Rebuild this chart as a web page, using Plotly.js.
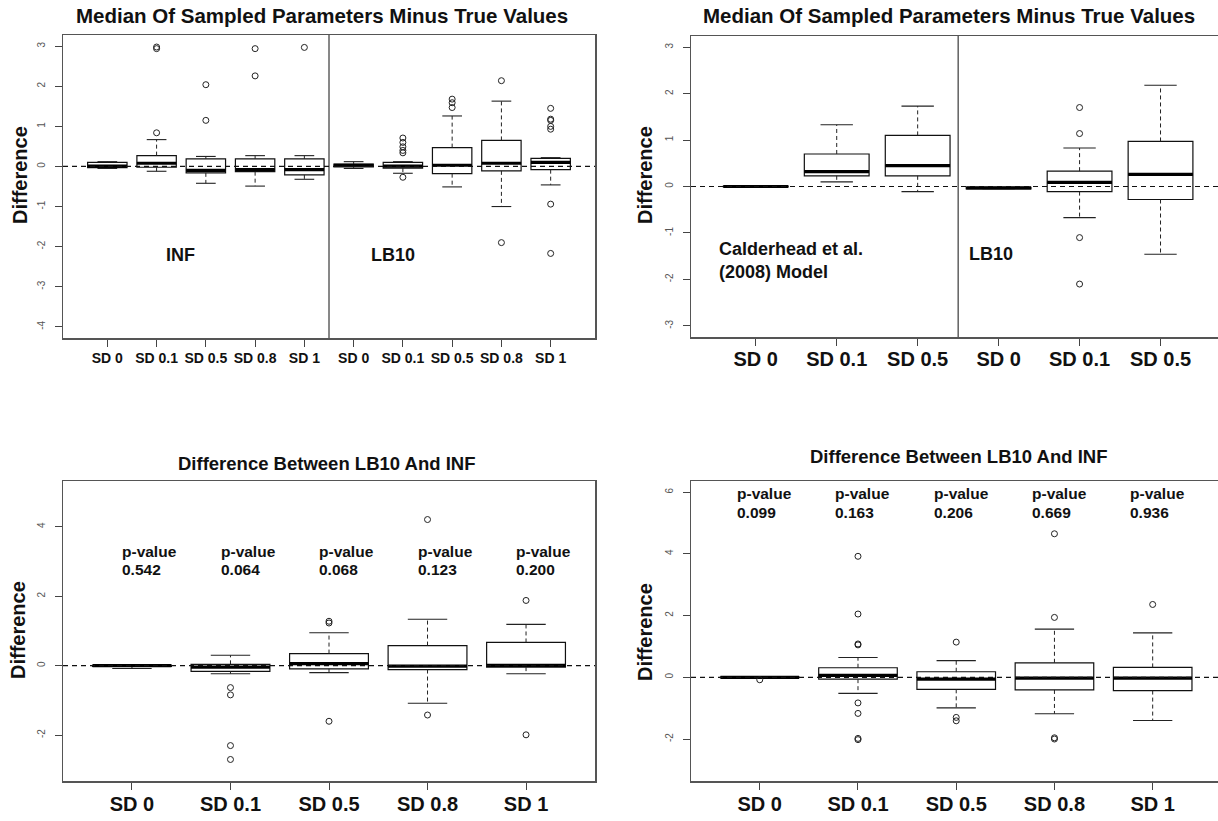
<!DOCTYPE html>
<html>
<head>
<meta charset="utf-8">
<script src="https://cdn.plot.ly/plotly-3.0.1.min.js"></script>
<style>html,body{margin:0;padding:0;background:#fff;}#chart{width:1218px;height:821px;}</style>
</head>
<body>
<div id="chart"></div>
<script>
// ---------------- DATA ----------------
// Top-left: Median of sampled parameters minus true values (INF | LB10)
const tlCategories = ['SD 0','SD 0.1','SD 0.5','SD 0.8','SD 1','SD 0','SD 0.1','SD 0.5','SD 0.8','SD 1'];
const tlQ1     = [-0.03, -0.02, -0.16, -0.13, -0.21, -0.01, -0.04, -0.18, -0.11, -0.08];
const tlMedian = [ 0.01,  0.08, -0.10, -0.08, -0.08,  0.03,  0.01,  0.03,  0.08,  0.10];
const tlQ3     = [ 0.10,  0.27,  0.19,  0.19,  0.19,  0.06,  0.10,  0.47,  0.65,  0.20];
const tlLower  = [-0.05, -0.12, -0.42, -0.49, -0.32, -0.05, -0.17, -0.51, -1.00, -0.46];
const tlUpper  = [ 0.12,  0.67,  0.25,  0.27,  0.27,  0.12,  0.12,  1.26,  1.63,  0.22];
const tlOutliers = [[], [0.84, 2.94, 2.98], [1.15, 2.04], [2.26, 2.94], [2.97],
                    [], [0.71, 0.60, 0.49, 0.40, 0.34, -0.27], [1.47, 1.59, 1.68], [2.14, -1.90],
                    [1.45, 1.18, 1.15, 1.00, 0.93, -0.94, -2.17]];
const tlYTicks = [-4, -3, -2, -1, 0, 1, 2, 3];

// Top-right: Calderhead et al. (2008) Model | LB10
const trCategories = ['SD 0','SD 0.1','SD 0.5','SD 0','SD 0.1','SD 0.5'];
const trQ1     = [-0.01, 0.23,  0.23, -0.05, -0.11, -0.28];
const trMedian = [ 0.00, 0.32,  0.45, -0.03,  0.09,  0.26];
const trQ3     = [ 0.01, 0.70,  1.10, -0.02,  0.33,  0.97];
const trLower  = [-0.01, 0.10, -0.11, -0.05, -0.67, -1.46];
const trUpper  = [ 0.01, 1.33,  1.73, -0.02,  0.83,  2.18];
const trOutliers = [[], [], [], [], [1.70, 1.14, -1.10, -2.10], []];
const trYTicks = [-3, -2, -1, 0, 1, 2, 3];

// Bottom-left: Difference between LB10 and INF
const blCategories = ['SD 0','SD 0.1','SD 0.5','SD 0.8','SD 1'];
const blQ1     = [-0.02, -0.16, -0.09, -0.11, -0.04];
const blMedian = [ 0.00, -0.04,  0.06, -0.01,  0.01];
const blQ3     = [ 0.01,  0.04,  0.35,  0.58,  0.67];
const blLower  = [-0.08, -0.23, -0.20, -1.08, -0.23];
const blUpper  = [ 0.01,  0.30,  0.95,  1.34,  1.19];
const blOutliers = [[], [-0.63, -0.84, -2.30, -2.70], [1.23, 1.28, -1.60], [4.21, -1.42], [1.88, -1.99]];
const blPValues = ['0.542', '0.064', '0.068', '0.123', '0.200'];
const blYTicks = [-2, 0, 2, 4];

// Bottom-right: Difference between LB10 and INF
const brCategories = ['SD 0','SD 0.1','SD 0.5','SD 0.8','SD 1'];
const brQ1     = [-0.01, -0.06, -0.39, -0.41, -0.43];
const brMedian = [ 0.00,  0.06, -0.06, -0.03, -0.03];
const brQ3     = [ 0.01,  0.31,  0.18,  0.47,  0.32];
const brLower  = [-0.01, -0.52, -0.99, -1.18, -1.40];
const brUpper  = [ 0.01,  0.64,  0.54,  1.56,  1.44];
const brOutliers = [[-0.08], [3.92, 2.05, 1.08, 1.05, -0.83, -1.17, -1.98, -2.02],
                    [1.14, -1.30, -1.41], [4.65, 1.94, -1.96, -2.00], [2.36]];
const brPValues = ['0.099', '0.163', '0.206', '0.669', '0.936'];
const brYTicks = [-2, 0, 2, 4, 6];

// ---------------- LAYOUT HELPERS ----------------
const W = 1218, H = 821;
const fx = px => px / W;
const fy = py => 1 - py / H;
const FONT = 'Liberation Sans, Arial, Helvetica, sans-serif';
const BOXW = 0.8, CAPW = 0.4;

const traces = [];

function addPanel(ax, cats, q1, med, q3, lo, hi, outs) {
  const xa = 'x' + (ax === 1 ? '' : ax), ya = 'y' + (ax === 1 ? '' : ax);
  const pos = cats.map((c, i) => i + 1);
  traces.push({
    type: 'box', xaxis: xa, yaxis: ya, x: pos,
    q1: q1, median: med, q3: q3, lowerfence: q1, upperfence: q3,
    width: BOXW, whiskerwidth: 0, fillcolor: 'white',
    line: {color: '#111', width: 1.2}, boxpoints: false, hoverinfo: 'skip'
  });
  const sx = [], sy = [];
  pos.forEach((p, i) => {
    sx.push(p, p, null, p, p, null);
    sy.push(q3[i], hi[i], null, q1[i], lo[i], null);
  });
  traces.push({type: 'scatter', mode: 'lines', xaxis: xa, yaxis: ya, x: sx, y: sy,
    line: {color: '#222', width: 1, dash: '4px,3px'}, hoverinfo: 'skip'});
  const cx = [], cy = [];
  pos.forEach((p, i) => {
    cx.push(p - CAPW / 2, p + CAPW / 2, null, p - CAPW / 2, p + CAPW / 2, null);
    cy.push(hi[i], hi[i], null, lo[i], lo[i], null);
  });
  traces.push({type: 'scatter', mode: 'lines', xaxis: xa, yaxis: ya, x: cx, y: cy,
    line: {color: '#222', width: 1.1}, hoverinfo: 'skip'});
  const mx = [], my = [];
  pos.forEach((p, i) => {
    mx.push(p - BOXW / 2, p + BOXW / 2, null);
    my.push(med[i], med[i], null);
  });
  traces.push({type: 'scatter', mode: 'lines', xaxis: xa, yaxis: ya, x: mx, y: my,
    line: {color: '#000', width: 3.2}, hoverinfo: 'skip'});
  const ox = [], oy = [];
  outs.forEach((arr, i) => arr.forEach(v => { ox.push(pos[i]); oy.push(v); }));
  traces.push({type: 'scatter', mode: 'markers', xaxis: xa, yaxis: ya, x: ox, y: oy,
    marker: {symbol: 'circle-open', size: 6, color: '#222', line: {width: 1, color: '#222'}},
    hoverinfo: 'skip'});
}

addPanel(1, tlCategories, tlQ1, tlMedian, tlQ3, tlLower, tlUpper, tlOutliers);
addPanel(2, trCategories, trQ1, trMedian, trQ3, trLower, trUpper, trOutliers);
addPanel(3, blCategories, blQ1, blMedian, blQ3, blLower, blUpper, blOutliers);
addPanel(4, brCategories, brQ1, brMedian, brQ3, brLower, brUpper, brOutliers);

function xAxis(dom, range, cats, size, anchor, mirror, standoff) {
  return {
    domain: [fx(dom[0]), fx(dom[1])], range: range, anchor: anchor,
    tickmode: 'array', tickvals: cats.map((c, i) => i + 1), ticktext: cats,
    ticks: 'outside', ticklen: 7, tickwidth: 1, tickcolor: '#444',
    ticklabelstandoff: standoff,
    tickfont: {family: FONT, size: size, color: '#111', weight: 'bold'},
    showline: true, mirror: mirror, linecolor: '#555', linewidth: 1.5,
    showgrid: false, zeroline: false, fixedrange: true
  };
}
function yAxis(dom, range, ticks, anchor, mirror) {
  return {
    domain: [fy(dom[1]), fy(dom[0])], range: range, anchor: anchor,
    tickmode: 'array', tickvals: ticks, ticktext: ticks.map(String),
    ticks: 'outside', ticklen: 7, tickwidth: 1, tickcolor: '#444',
    tickangle: -90, ticklabelstandoff: 6,
    tickfont: {family: FONT, size: 10, color: '#555'},
    showline: true, mirror: mirror, linecolor: '#555', linewidth: 1.5,
    showgrid: false, zeroline: false, fixedrange: true
  };
}

const zeroLine = (xr, yr) => ({type: 'line', xref: xr + ' domain', yref: yr, x0: 0, x1: 1, y0: 0, y1: 0,
  line: {color: '#111', width: 1.2, dash: '5px,4px'}, layer: 'above'});
const divider = (xr, yr, xv) => ({type: 'line', xref: xr, yref: yr + ' domain', x0: xv, x1: xv, y0: 0, y1: 1,
  line: {color: '#111', width: 1}, layer: 'above'});

const ann = [];
function pageText(text, px, py, size, extra) {
  ann.push(Object.assign({text: text, xref: 'paper', yref: 'paper', x: fx(px), y: fy(py),
    xanchor: 'center', yanchor: 'middle', showarrow: false,
    font: {family: FONT, size: size, color: '#111', weight: 'bold'}}, extra || {}));
}
pageText('Median Of Sampled Parameters Minus True Values', 322, 15, 20.5);
pageText('Median Of Sampled Parameters Minus True Values', 949, 15, 20.5);
pageText('Difference Between LB10 And INF', 326, 464, 18.5);
pageText('Difference Between LB10 And INF', 958, 456, 18.5);
pageText('Difference', 20, 175, 20, {textangle: -90});
pageText('Difference', 645, 175, 20, {textangle: -90});
pageText('Difference', 18, 630, 20, {textangle: -90});
pageText('Difference', 645, 632, 20, {textangle: -90});

function dataText(text, xa, ya, x, y, size) {
  ann.push({text: text, xref: xa, yref: ya, x: x, y: y, xanchor: 'left', yanchor: 'middle',
    align: 'left', showarrow: false,
    font: {family: FONT, size: size, color: '#111', weight: 'bold'}});
}
dataText('INF', 'x', 'y', 2.16, -2.2, 18);
dataText('LB10', 'x', 'y', 6.32, -2.2, 18);
dataText('Calderhead et al.<br>(2008) Model', 'x2', 'y2', 0.52, -1.59, 18);
dataText('LB10', 'x2', 'y2', 3.61, -1.45, 18);
blPValues.forEach((p, i) => {
  dataText('p-value', 'x3', 'y3', i + 1 - 0.12, 3.28, 15.5);
  dataText(p, 'x3', 'y3', i + 1 - 0.12, 2.78, 15.5);
});
brPValues.forEach((p, i) => {
  dataText('p-value', 'x4', 'y4', i + 1 - 0.25, 5.94, 15.5);
  dataText(p, 'x4', 'y4', i + 1 - 0.25, 5.35, 15.5);
});

const layout = {
  width: W, height: H, margin: {l: 0, r: 0, t: 0, b: 0, pad: 0},
  paper_bgcolor: 'white', plot_bgcolor: 'white', showlegend: false,
  font: {family: FONT, color: '#111'},
  xaxis:  xAxis([63, 595],  [0.1, 10.9], tlCategories, 14, 'y', true, 0),
  yaxis:  yAxis([35, 338],  [-4.28, 3.28], tlYTicks, 'x', true),
  xaxis2: xAxis([691, 1218], [0.2, 6.71], trCategories, 20, 'y2', true, -4),
  yaxis2: yAxis([36, 337],  [-3.24, 3.24], trYTicks, 'x2', false),
  xaxis3: xAxis([63, 595],  [0.3, 5.7], blCategories, 20, 'y3', true, -3),
  yaxis3: yAxis([481, 781], [-3.32, 5.32], blYTicks, 'x3', true),
  xaxis4: xAxis([691, 1218], [0.3, 5.665], brCategories, 20, 'y4', true, -3),
  yaxis4: yAxis([481, 781], [-3.36, 6.36], brYTicks, 'x4', false),
  shapes: [
    zeroLine('x', 'y'), zeroLine('x2', 'y2'), zeroLine('x3', 'y3'), zeroLine('x4', 'y4'),
    divider('x', 'y', 5.5), divider('x2', 'y2', 3.5)
  ],
  annotations: ann
};

Plotly.newPlot('chart', traces, layout, {displayModeBar: false, staticPlot: true});
</script>
</body>
</html>
